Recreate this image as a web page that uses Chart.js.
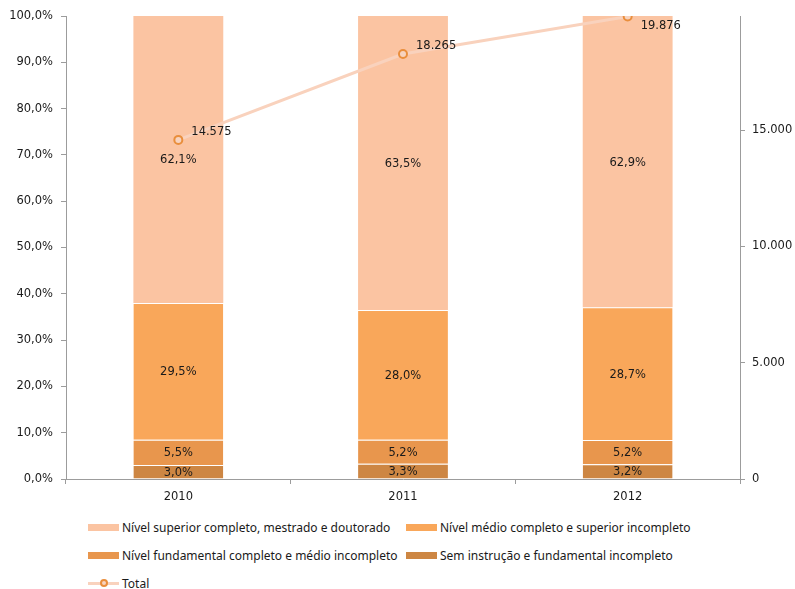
<!DOCTYPE html>
<html>
<head>
<meta charset="utf-8">
<script src="https://cdn.jsdelivr.net/npm/chart.js@4.4.1/dist/chart.umd.min.js"></script>
<style>
  body { margin: 0; background: #fff; }
  #wrap { position: relative; width: 795px; height: 589px; }
  #legend { position: absolute; left: 88px; top: 513px; display: grid;
    grid-template-columns: 318px auto; grid-auto-rows: 28px;
    font: 12px "Noto Sans", sans-serif; color: #1a1a1a; }
  #legend .item { display: flex; align-items: center; white-space: nowrap; }
  #legend .box { width: 31px; height: 7px; margin-right: 3px; }
  #legend .mark { position: relative; width: 31px; height: 8px; margin-right: 3px; }
  #legend .mark .ln { position: absolute; left: 0; right: 0; top: 2.5px; height: 3px; }
  #legend .mark .pt { position: absolute; left: 11.5px; top: 0; width: 4px; height: 4px; border-radius: 50%; border: 2px solid; }
</style>
</head>
<body>
<div id="wrap">
  <canvas id="chart" width="795" height="510"></canvas>
  <div id="legend"></div>
</div>
<script>
var years = ['2010', '2011', '2012'];
var semInstrucao = [3.0, 3.3, 3.2];
var fundamental = [5.5, 5.2, 5.2];
var medio = [29.5, 28.0, 28.7];
var superior = [62.1, 63.5, 62.9];
var total = [14575, 18265, 19876];
var totalTicks = [0, 5000, 10000, 15000];

var colors = {
  sem: '#CD8643',
  fund: '#E8964D',
  medio: '#F9A75A',
  sup: '#FBC4A2',
  line: '#F9D2BD',
  point: '#E98E3C',
  pointFill: '#F7D3BF'
};

function pct(v) { return v.toFixed(1).replace('.', ',') + '%'; }
function milhar(v) { return String(v).replace(/\B(?=(\d{3})+(?!\d))/g, '.'); }

var axisGray = '#9c9c9c';
var numFont = {family: 'DejaVu Sans', size: 11.5};

// rótulos de dados (sem plugin externo)
var labelPlugin = {
  id: 'labels',
  afterDatasetsDraw: function(chart) {
    var ctx = chart.ctx;
    ctx.save();
    ctx.font = '11.5px "DejaVu Sans"';
    ctx.fillStyle = '#1a1a1a';
    chart.data.datasets.forEach(function(ds, i) {
      var meta = chart.getDatasetMeta(i);
      meta.data.forEach(function(el, j) {
        var v = ds.data[j];
        ctx.textBaseline = 'middle';
        if (ds.type === 'line') {
          var y = el.y - 8;
          if (y < chart.chartArea.top + 4) y = el.y + 9;
          ctx.textAlign = 'left';
          ctx.fillText(milhar(v), el.x + 13, y);
        } else {
          ctx.textAlign = 'center';
          ctx.fillText(pct(v), el.x, (el.y + el.base) / 2 + 1);
        }
      });
    });
    ctx.restore();
  }
};

function barSet(label, data, color, sep) {
  return {
    type: 'bar', label: label, data: data, backgroundColor: color,
    borderColor: 'rgba(255,255,255,0.35)', borderWidth: {top: sep ? 1 : 0, bottom: 0, left: 0, right: 0},
    borderSkipped: false, yAxisID: 'y', order: 1,
    categoryPercentage: 1, barPercentage: 0.4
  };
}

var chart = new Chart(document.getElementById('chart'), {
  data: {
    labels: years,
    datasets: [
      barSet('Sem instrução e fundamental incompleto', semInstrucao, colors.sem, true),
      barSet('Nível fundamental completo e médio incompleto', fundamental, colors.fund, true),
      barSet('Nível médio completo e superior incompleto', medio, colors.medio, true),
      barSet('Nível superior completo, mestrado e doutorado', superior, colors.sup, false),
      {
        type: 'line', label: 'Total', data: total, yAxisID: 'y1', order: 0,
        borderColor: colors.line, borderWidth: 3,
        pointRadius: 4, pointBorderWidth: 2,
        pointBorderColor: colors.point, pointBackgroundColor: colors.pointFill,
        tension: 0
      }
    ]
  },
  options: {
    responsive: false,
    animation: false,
    layout: {padding: {top: 16, left: 0, right: 0, bottom: 0}},
    plugins: {legend: {display: false}, tooltip: {enabled: false}},
    scales: {
      x: {
        stacked: true,
        grid: {offset: true, drawOnChartArea: false, tickLength: 5, color: axisGray},
        border: {color: axisGray},
        ticks: {font: numFont, color: '#1a1a1a', padding: 6},
        afterFit: function(s) { s.height = 31; }
      },
      y: {
        stacked: true, position: 'left', min: 0, max: 100,
        grid: {drawOnChartArea: false, tickLength: 5, color: axisGray},
        border: {color: axisGray},
        ticks: {stepSize: 10, font: numFont, color: '#1a1a1a', padding: 8, callback: function(v) { return pct(v); }},
        afterFit: function(s) { s.width = 66; }
      },
      y1: {
        position: 'right', min: 0, max: 19900,
        grid: {drawOnChartArea: false, tickLength: 5, color: axisGray},
        border: {color: axisGray},
        ticks: {font: numFont, color: '#1a1a1a', padding: 7, callback: function(v) { return milhar(v); }},
        afterBuildTicks: function(s) { s.ticks = totalTicks.map(function(v) { return {value: v}; }); },
        afterFit: function(s) { s.width = 55; }
      }
    }
  },
  plugins: [labelPlugin]
});

// legenda em duas colunas, na ordem do original
var legendOrder = [3, 2, 1, 0, 4];
var legendEl = document.getElementById('legend');
legendOrder.forEach(function(i) {
  var ds = chart.data.datasets[i];
  var item = document.createElement('div');
  item.className = 'item';
  if (ds.type === 'line') {
    item.innerHTML = '<span class="mark"><span class="ln" style="background:' + ds.borderColor +
      '"></span><span class="pt" style="border-color:' + ds.pointBorderColor + ';background:' +
      ds.pointBackgroundColor + '"></span></span>';
  } else {
    item.innerHTML = '<span class="box" style="background:' + ds.backgroundColor + '"></span>';
  }
  var t = document.createElement('span');
  t.textContent = ds.label;
  item.appendChild(t);
  legendEl.appendChild(item);
});
</script>
</body>
</html>
